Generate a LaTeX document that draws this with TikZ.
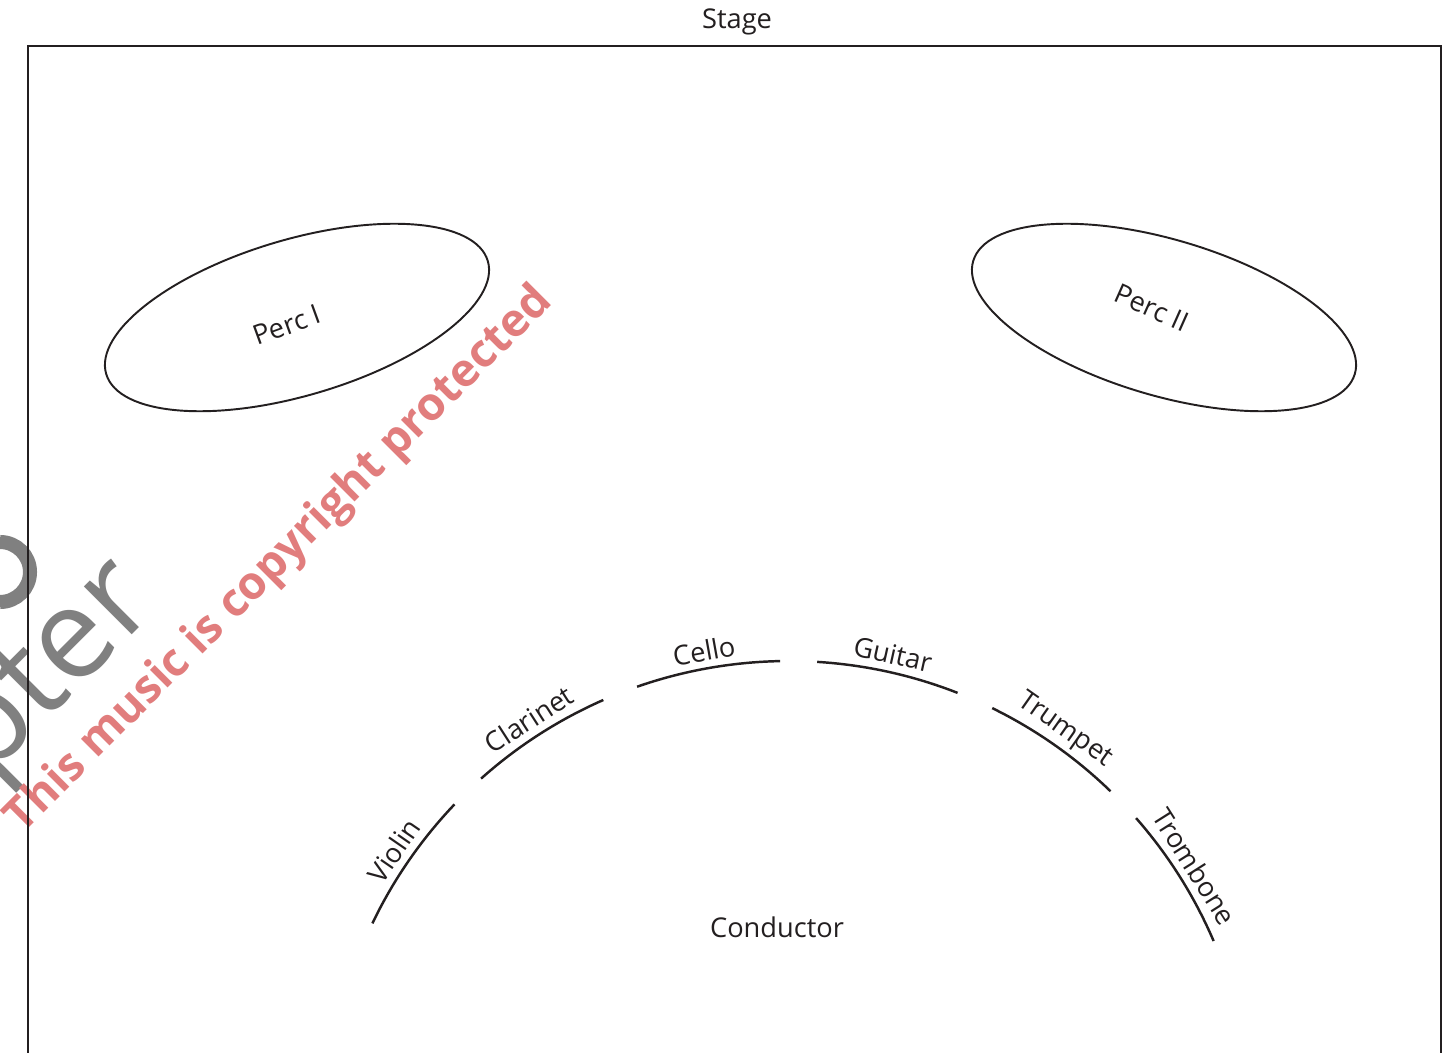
\documentclass[tikz,border=0pt]{standalone}
\usepackage{fontspec}
\setmainfont{Open Sans}
\usepackage{tikz}

\definecolor{markred}{RGB}{225,125,125}
\definecolor{markgray}{RGB}{128,128,128}
\definecolor{ink}{RGB}{35,31,32}

\tikzset{
  lbl/.style={font=\fontsize{15.5}{18}\selectfont, text=ink},
  seat/.style={line width=1.4pt, ink},
  zone/.style={line width=1.1pt, ink}
}

\begin{document}
\begin{tikzpicture}[x=0.02cm,y=0.02cm]
\useasboundingbox (0,0) rectangle (1456,1052);
\clip (0,0) rectangle (1456,1052);

\draw[markgray, line width=8pt] (0,480) ++(90:30) arc[start angle=90, end angle=-90, radius=30];
\path (165,450) node[anchor=base east, rotate=45, text=markgray,
        font=\fontsize{72}{80}\selectfont] (logo) {pter}
      (280,492) node[rotate=45, text=markred,
        font=\fontsize{26}{30}\selectfont\bfseries] (notice) {This music is copyright protected};

\draw[line width=1.1pt, ink] (28,-20) -- (28,1006) -- (1441,1006) -- (1441,-20);

\path (737,1030) node[lbl] (stage) {Stage}
      (777,125) node[lbl] (cond) {Conductor}
      (287,727) node[lbl, rotate=20] (perc1) {Perc I}
      (1152,744) node[lbl, rotate=-24] (perc2) {Perc II}
      (789,-71) coordinate (pod);

\draw[zone, rotate around={16.5:(297,734.5)}] (297,734.5) ellipse (199 and 78);
\draw[zone, rotate around={-16.5:(1164,734.5)}] (1164,734.5) ellipse (199 and 78);

\foreach \from/\to/\mid/\name/\txt in {154.4/136.4/145.4/vln/Violin,
    131.8/113.7/122.8/cla/Clarinet, 109.2/91.1/100.2/vlc/Cello,
    86.5/68.6/77.5/gtr/Guitar, 63.9/45.9/54.9/tpt/Trumpet,
    41.3/23.2/32.3/tbn/Trombone}{
  \draw[seat] (pod) ++(\from:462) arc[start angle=\from, end angle=\to, radius=462];
  \path (pod) ++(\mid:480) node[lbl, rotate=\mid-90] (\name) {\txt};
}
\end{tikzpicture}
\end{document}
